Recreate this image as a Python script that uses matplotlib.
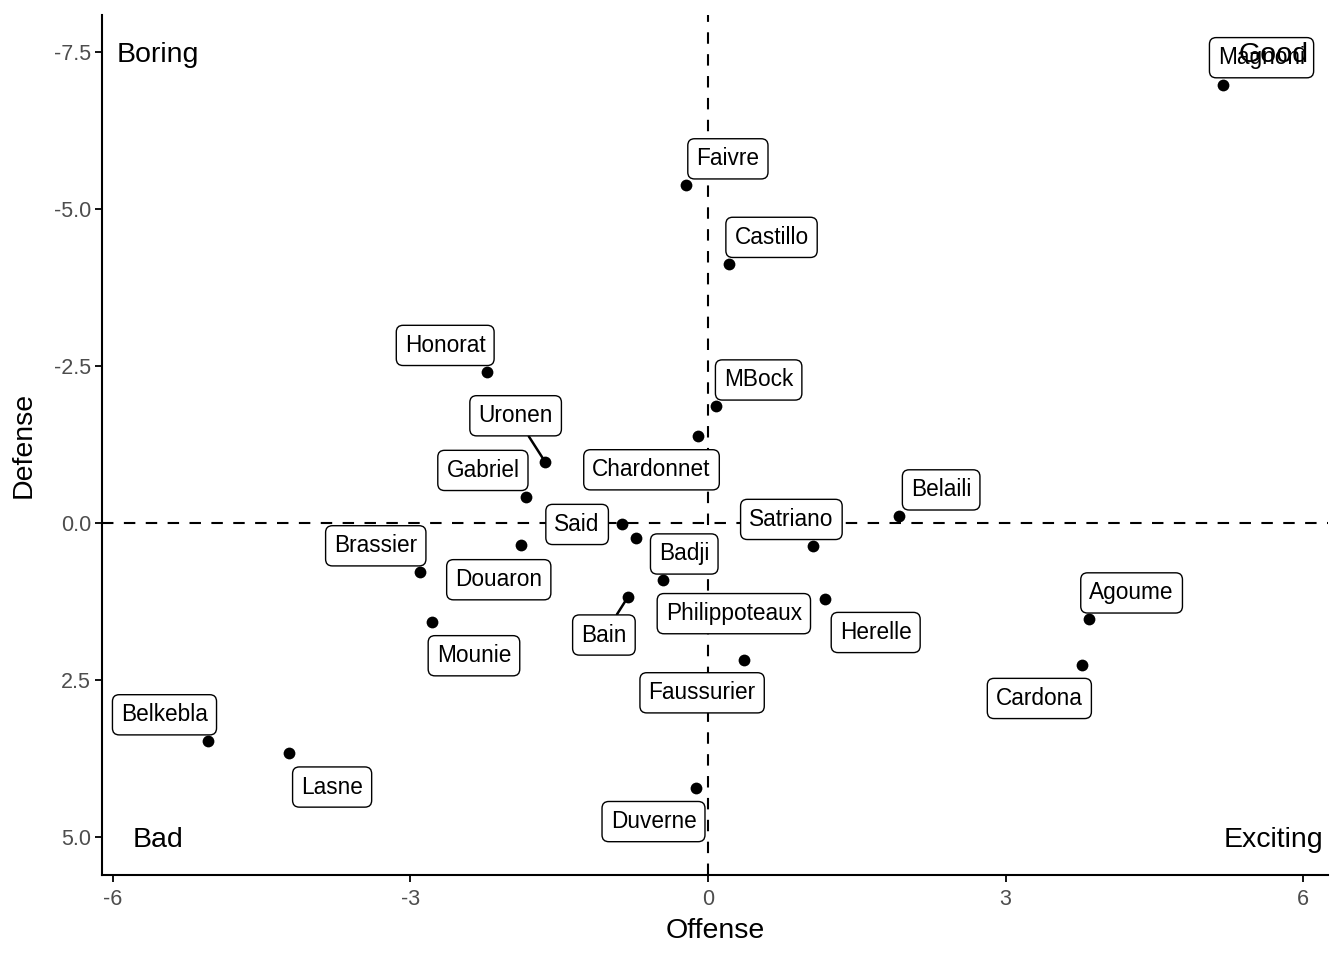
import matplotlib
matplotlib.use("Agg")
import matplotlib.pyplot as plt

plt.rcParams['font.family'] = ['Liberation Sans', 'DejaVu Sans']

players = ["Magnoni", "Faivre", "Castillo", "Honorat", "MBock", "Chardonnet",
           "Uronen", "Gabriel", "Belaili", "Said", "Badji", "Douaron",
           "Satriano", "Brassier", "Philippoteaux", "Bain", "Herelle",
           "Agoume", "Mounie", "Faussurier", "Cardona", "Belkebla", "Lasne",
           "Duverne"]
offense = [5.19, -0.22, 0.21, -2.23, 0.08, -0.10, -1.64, -1.84, 1.93, -0.87,
           -0.73, -1.89, 1.06, -2.90, -0.45, -0.81, 1.18, 3.84, -2.78, 0.36,
           3.77, -5.04, -4.22, -0.12]
defense = [-6.97, -5.38, -4.12, -2.40, -1.86, -1.39, -0.97, -0.41, -0.11, 0.02,
           0.24, 0.35, 0.37, 0.78, 0.91, 1.18, 1.21, 1.53, 1.58, 2.17, 2.26,
           3.47, 3.66, 4.22]

x_ticks = [-6, -3, 0, 3, 6]
y_ticks = [-7.5, -5.0, -2.5, 0.0, 2.5, 5.0]
y_tick_labels = ["-7.5", "-5.0", "-2.5", "0.0", "2.5", "5.0"]

quadrants = ["Boring", "Good", "Bad", "Exciting"]
quad_x = [-5.55, 5.70, -5.55, 5.70]
quad_y = [-7.5, -7.5, 5.0, 5.0]

# repelled label positions (layout, not data)
label_pos = {
    "Magnoni": (5.58, -7.45), "Faivre": (0.20, -5.84), "Castillo": (0.64, -4.59),
    "Honorat": (-2.65, -2.87), "MBock": (0.51, -2.32), "Chardonnet": (-0.57, -0.89),
    "Uronen": (-1.94, -1.75), "Gabriel": (-2.27, -0.88), "Belaili": (2.35, -0.57),
    "Said": (-1.32, -0.02), "Badji": (-0.24, 0.45), "Douaron": (-2.11, 0.86),
    "Satriano": (0.84, -0.10), "Brassier": (-3.35, 0.32), "Philippoteaux": (0.26, 1.40),
    "Bain": (-1.05, 1.74), "Herelle": (1.69, 1.70), "Agoume": (4.27, 1.07),
    "Mounie": (-2.36, 2.07), "Faussurier": (-0.06, 2.66), "Cardona": (3.34, 2.75),
    "Belkebla": (-5.48, 3.01), "Lasne": (-3.79, 4.16), "Duverne": (-0.55, 4.71),
}
with_segment = {"Uronen", "Bain"}

fig = plt.figure(figsize=(13.44, 9.6), dpi=100)
ax = fig.add_axes([102/1344, 85/960, (1328-102)/1344, (875-15)/960])

ax.axvline(0, color="black", linestyle=(0, (5.5, 5)), linewidth=1.5, zorder=1)
ax.axhline(0, color="black", linestyle=(0, (5.5, 5)), linewidth=1.5, zorder=1)

ax.scatter(offense, defense, s=72, color="black", zorder=3, linewidths=0)

for name, xo, yo in zip(players, offense, defense):
    lx, ly = label_pos[name]
    kw = {}
    if name in with_segment:
        kw["arrowprops"] = dict(arrowstyle="-", color="black", lw=1.8,
                                shrinkA=0, shrinkB=2)
    ax.annotate(name, xy=(xo, yo), xytext=(lx, ly), textcoords="data",
                ha="center", va="center_baseline", fontsize=16.3, color="black",
                bbox=dict(boxstyle="round,pad=0.38,rounding_size=0.3",
                          fc="white", ec="black", lw=1.0),
                zorder=4, **kw)

for t, qx, qy in zip(quadrants, quad_x, quad_y):
    ax.text(qx, qy, t, ha="center", va="center_baseline", fontsize=20.5,
            color="black", zorder=5)

ax.set_xlim(-6.11, 6.25)
ax.set_ylim(5.6, -8.09)
ax.set_xticks(x_ticks)
ax.set_xticklabels([str(v) for v in x_ticks])
ax.set_yticks(y_ticks)
ax.set_yticklabels(y_tick_labels)
ax.tick_params(axis="both", labelsize=15.5, labelcolor="#4D4D4D",
               color="black", length=5, width=1.3)
ax.tick_params(axis="x", pad=5)
ax.tick_params(axis="y", pad=3)

for s in ["top", "right"]:
    ax.spines[s].set_visible(False)
for s in ["left", "bottom"]:
    ax.spines[s].set_linewidth(1.5)
    ax.spines[s].set_color("black")

ax.set_xlabel("Offense", fontsize=20.5, labelpad=6)
ax.set_ylabel("Defense", fontsize=20.5, labelpad=12)

fig.savefig("out.png", dpi=100, facecolor="white")
